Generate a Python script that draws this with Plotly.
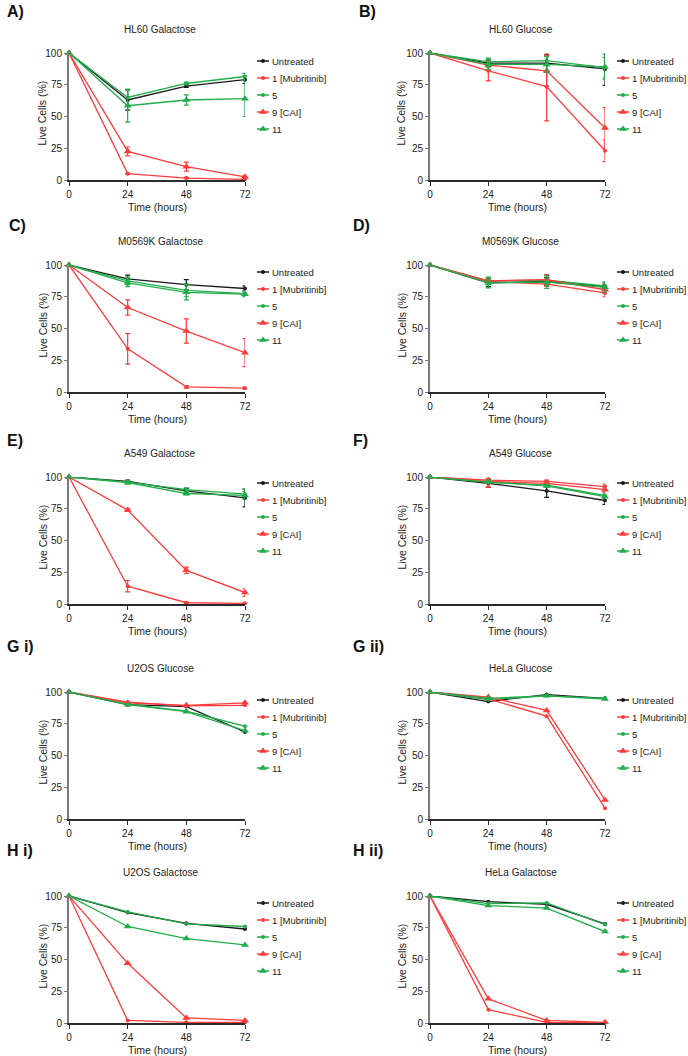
import plotly.graph_objects as go

W, H = 688, 1056
FONT = "Liberation Sans, Arial, sans-serif"

time_h = [0, 24, 48, 72]
x_ticks = [0, 24, 48, 72]
y_ticks = [0, 25, 50, 75, 100]
series_names = ["Untreated", "1 [Mubritinib]", "5", "9 [CAI]", "11"]
series_colors = ["#1a1a1a", "#ff3b3b", "#21ad4a", "#ff3b3b", "#21ad4a"]
series_symbols = ["circle", "circle", "circle", "triangle-up", "triangle-up"]
series_sizes = [4, 4, 4, 7, 7]

panel_titles = ["HL60 Galactose", "HL60 Glucose", "M0569K Galactose", "M0569K Glucose",
                "A549 Galactose", "A549 Glucose", "U2OS Glucose", "HeLa Glucose",
                "U2OS Galactose", "HeLa Galactose"]
panel_letters = ["A)", "B)", "C)", "D)", "E)", "F)", "G i)", "G ii)", "H i)", "H ii)"]

# means per series (Untreated, 1 [Mubritinib], 5, 9 [CAI], 11)
A_mean = [[100, 63, 74, 79], [100, 5, 1.5, 0.5], [100, 65, 76, 81.5], [100, 22.5, 10.5, 2.5], [100, 58.5, 63, 64]]
A_err = [[0, 8, 1, 3], [0, 0.5, 0.5, 0.5], [0, 6, 1, 2.5], [0, 3.5, 3.5, 1], [0, 13, 4, 14]]
B_mean = [[100, 92, 92, 87.5], [100, 86, 73.5, 23], [100, 93, 94, 88.5], [100, 90.5, 86, 41], [100, 91, 91, 89]]
B_err = [[0, 3, 7, 13], [0, 8, 27, 8.5], [0, 3, 4, 8], [0, 4, 12, 16], [0, 4, 6, 10]]
C_mean = [[100, 89, 84.5, 81.5], [100, 34, 4, 3], [100, 87.5, 80, 77.5], [100, 66.5, 48, 31], [100, 86, 78.5, 77]]
C_err = [[0, 3, 4, 2], [0, 12, 1, 1], [0, 3, 5, 2], [0, 6, 9.5, 11], [0, 3, 6, 2]]
D_mean = [[100, 86, 87, 83], [100, 87, 85, 78], [100, 87.5, 88, 83.5], [100, 87.5, 88.5, 80.5], [100, 86, 86.5, 82.5]]
D_err = [[0, 3, 3, 2], [0, 2, 2, 3], [0, 3, 4, 3], [0, 2, 4, 3], [0, 4, 5, 4]]
E_mean = [[100, 96.5, 89, 83.5], [100, 14, 1, 0.5], [100, 96, 90, 86.5], [100, 74, 26.5, 9], [100, 95.5, 87, 85.5]]
E_err = [[0, 1, 2, 7], [0, 4.5, 0.5, 0.5], [0, 1, 1.5, 4], [0, 1, 2.5, 3], [0, 1, 1, 3]]
F_mean = [[100, 95, 89, 81.5], [100, 97.5, 96.5, 92.5], [100, 96, 93.5, 85.5], [100, 96.5, 95, 90], [100, 96, 93, 84.5]]
F_err = [[0, 3, 5, 3], [0, 1.5, 1, 2], [0, 1, 1, 2], [0, 4.5, 1.5, 2], [0, 1, 1, 1.5]]
Gi_mean = [[100, 90, 88.5, 68.5], [100, 92, 89, 89.5], [100, 90.5, 85, 73], [100, 91.5, 89.5, 91.5], [100, 90, 84.5, 69.5]]
Gii_mean = [[100, 92.5, 98, 95], [100, 94.5, 81, 8.5], [100, 94, 97, 95], [100, 96, 85.5, 15], [100, 95, 97, 94.5]]
Hi_mean = [[100, 87, 78.5, 74], [100, 2, 0.5, 0.5], [100, 87.5, 78, 76], [100, 47, 4, 2], [100, 76, 66.5, 61.5]]
Hii_mean = [[100, 95.5, 93.5, 78], [100, 10.5, 0.5, 0], [100, 94, 94.5, 77.5], [100, 19, 2, 0.5], [100, 92.5, 90.5, 72]]

panel_means = [A_mean, B_mean, C_mean, D_mean, E_mean, F_mean, Gi_mean, Gii_mean, Hi_mean, Hii_mean]
panel_errs = [A_err, B_err, C_err, D_err, E_err, F_err, None, None, None, None]

# layout geometry (pixels)
col_x = [(69, 245), (430, 605)]
row_y = [(53, 180), (265, 392), (477, 604), (692, 819), (896, 1023)]
letter_y = [12, 225, 440, 646, 850]
letter_x = [5, 357, 7, 351, 5, 351, 5, 351, 5, 351]
legend_x = [252, 612]
legend_first = [61, 272, 483, 700, 903]
ytitle_x = [42, 401]


def px(x):
    return x / W


def py(y):
    return 1 - y / H


fig = go.Figure()
annotations = []
layout_axes = {}

for p in range(10):
    row, col = p // 2, p % 2
    x0, x1 = col_x[col]
    top, bot = row_y[row]
    ax = "" if p == 0 else str(p + 1)
    xa, ya = "x" + ax, "y" + ax
    leg = "legend" if p == 0 else "legend" + str(p + 1)

    layout_axes["xaxis" + ax] = dict(
        domain=[px(x0), px(x1)], anchor=ya, range=[0, 72], tickvals=x_ticks,
        showline=True, linecolor="#2b2b2b", linewidth=1.6, ticks="outside", ticklen=4,
        tickwidth=1.2, tickcolor="#2b2b2b", showgrid=False, zeroline=False, automargin=False,
        tickfont=dict(family=FONT, size=10, color="#222"), fixedrange=True)
    layout_axes["yaxis" + ax] = dict(
        domain=[py(bot), py(top)], anchor=xa, range=[0, 100], tickvals=y_ticks,
        showline=True, linecolor="#7a7a7a", linewidth=2, ticks="outside", ticklen=3,
        tickwidth=1.2, tickcolor="#7a7a7a", showgrid=False, zeroline=False, automargin=False,
        tickfont=dict(family=FONT, size=10, color="#222"), fixedrange=True)
    layout_axes[leg] = dict(
        x=px(legend_x[col]), y=py(legend_first[row] - 14.5), xref="container", yref="container",
        xanchor="left", yanchor="top", bgcolor="rgba(0,0,0,0)", borderwidth=0,
        font=dict(family=FONT, size=9.5, color="#222"), tracegroupgap=0)

    means = panel_means[p]
    errs = panel_errs[p]
    for s in range(5):
        ey = None
        if errs is not None:
            ey = dict(type="data", array=errs[s], visible=True, color=series_colors[s],
                      thickness=1.2, width=2.5)
        fig.add_trace(go.Scatter(
            x=time_h, y=means[s], mode="lines+markers", name=series_names[s],
            xaxis=xa, yaxis=ya, legend=leg, cliponaxis=False,
            line=dict(color=series_colors[s], width=1.3),
            marker=dict(color=series_colors[s], symbol=series_symbols[s], size=series_sizes[s]),
            error_y=ey))

    cx = (x0 + x1) / 2 + 3
    annotations.append(dict(text=panel_titles[p], x=px(cx), y=py(top - 24), xref="paper", yref="paper",
                            showarrow=False, xanchor="center", yanchor="middle",
                            font=dict(family=FONT, size=10, color="#222")))
    annotations.append(dict(text="<b>" + panel_letters[p] + "</b>", x=px(letter_x[p]), y=py(letter_y[row]),
                            xref="paper", yref="paper", showarrow=False, xanchor="left", yanchor="middle",
                            font=dict(family=FONT, size=16, color="#111")))
    annotations.append(dict(text="Live Cells (%)", x=px(ytitle_x[col]), y=py((top + bot) / 2 - 3),
                            xref="paper", yref="paper", showarrow=False, textangle=-90,
                            xanchor="center", yanchor="middle",
                            font=dict(family=FONT, size=10.5, color="#222")))
    annotations.append(dict(text="Time (hours)", x=px((x0 + x1) / 2), y=py(bot + 27),
                            xref="paper", yref="paper", showarrow=False,
                            xanchor="center", yanchor="middle",
                            font=dict(family=FONT, size=10.5, color="#222")))

fig.update_layout(
    template="none",
    width=W, height=H, autosize=False,
    margin=dict(l=0, r=0, t=0, b=0, pad=0, autoexpand=False),
    paper_bgcolor="white", plot_bgcolor="white",
    showlegend=True, annotations=annotations,
    **layout_axes)

# legend entries: shorter swatch (12 px) and tighter 17 px rows, as in the reference
legend_js = """
var st = document.createElement('style');
st.textContent = 'html,body{margin:0;padding:0;overflow:hidden;}' +
  'g.legendlines path.js-line{d:path("M25,0h12") !important;}' +
  'g.legendpoints path.scatterpts{transform:translate(31px,0px) !important;}';
document.head.appendChild(st);
var gd = document.getElementById('{plot_id}');
function tightenLegend(){
  gd.querySelectorAll('g.scrollbox').forEach(function(box){
    var items = box.querySelectorAll('g.traces');
    var y0 = null;
    items.forEach(function(t, i){
      if (t.dataset.oy === undefined) {
        var m = /translate\\(([-0-9.e]+)[ ,]+([-0-9.e]+)\\)/.exec(t.getAttribute('transform') || '');
        t.dataset.ox = m ? m[1] : '0';
        t.dataset.oy = m ? m[2] : '0';
      }
      if (y0 === null) { y0 = parseFloat(t.dataset.oy); }
      t.setAttribute('transform', 'translate(' + (parseFloat(t.dataset.ox) - 20) + ',' + (y0 + 17 * i) + ')');
    });
  });
}
tightenLegend();
gd.on('plotly_afterplot', tightenLegend);
setTimeout(tightenLegend, 100);
"""

fig.write_html("out.html", post_script=legend_js, config={"displayModeBar": False})
